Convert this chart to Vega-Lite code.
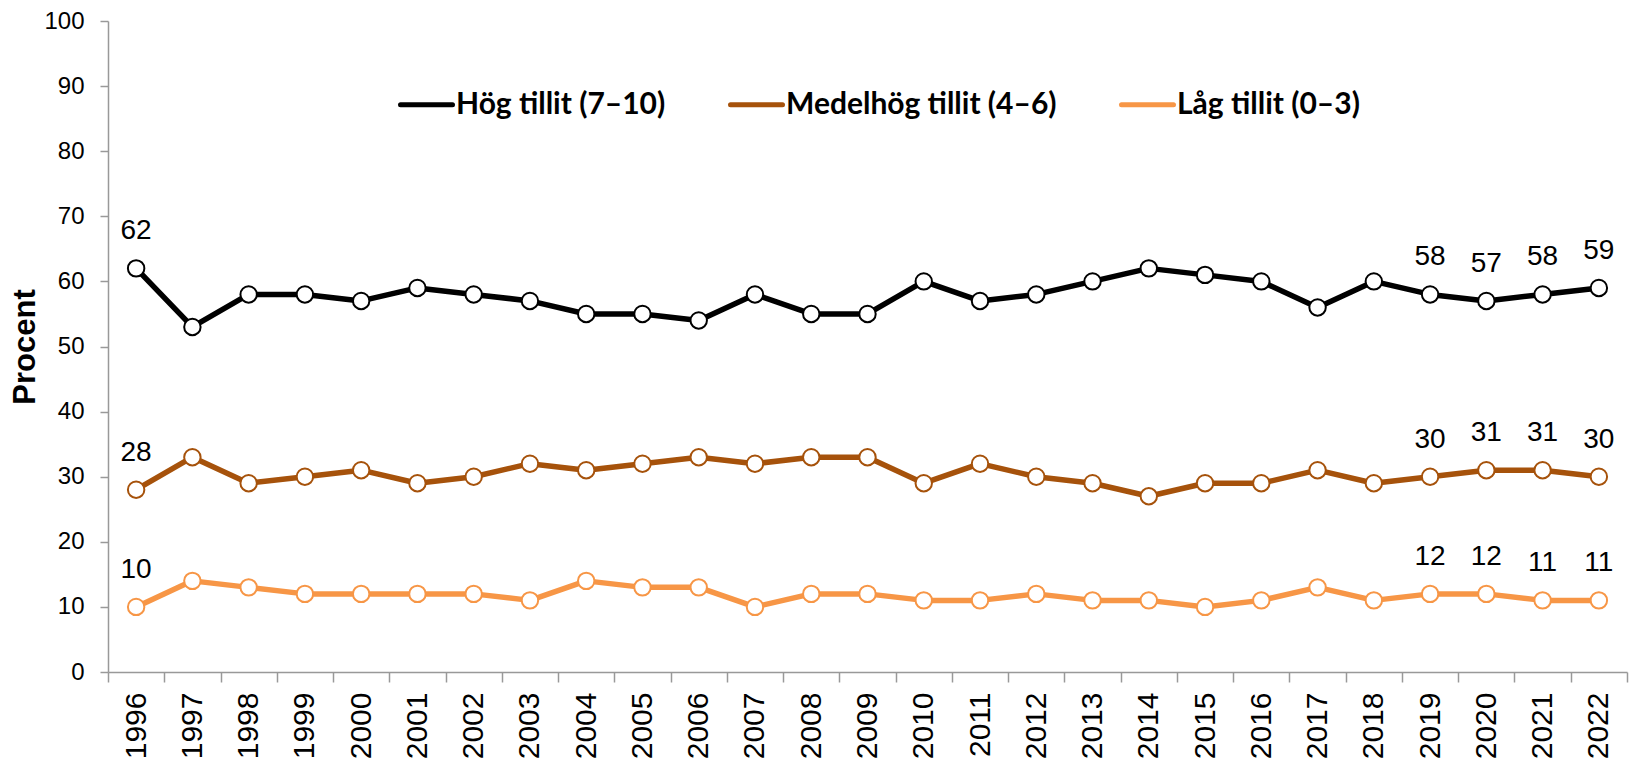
{
  "$schema": "https://vega.github.io/schema/vega-lite/v6.json",
  "width": 1519,
  "height": 651,
  "autosize": {"type": "none"},
  "padding": {"left": 108, "top": 21, "right": 4, "bottom": 90},
  "background": "white",
  "config": {
    "view": {"stroke": null},
    "font": "Liberation Sans"
  },
  "data": {
    "values": [
      {"year": 1996, "serie": "Hög tillit (7–10)", "procent": 62},
      {"year": 1997, "serie": "Hög tillit (7–10)", "procent": 53},
      {"year": 1998, "serie": "Hög tillit (7–10)", "procent": 58},
      {"year": 1999, "serie": "Hög tillit (7–10)", "procent": 58},
      {"year": 2000, "serie": "Hög tillit (7–10)", "procent": 57},
      {"year": 2001, "serie": "Hög tillit (7–10)", "procent": 59},
      {"year": 2002, "serie": "Hög tillit (7–10)", "procent": 58},
      {"year": 2003, "serie": "Hög tillit (7–10)", "procent": 57},
      {"year": 2004, "serie": "Hög tillit (7–10)", "procent": 55},
      {"year": 2005, "serie": "Hög tillit (7–10)", "procent": 55},
      {"year": 2006, "serie": "Hög tillit (7–10)", "procent": 54},
      {"year": 2007, "serie": "Hög tillit (7–10)", "procent": 58},
      {"year": 2008, "serie": "Hög tillit (7–10)", "procent": 55},
      {"year": 2009, "serie": "Hög tillit (7–10)", "procent": 55},
      {"year": 2010, "serie": "Hög tillit (7–10)", "procent": 60},
      {"year": 2011, "serie": "Hög tillit (7–10)", "procent": 57},
      {"year": 2012, "serie": "Hög tillit (7–10)", "procent": 58},
      {"year": 2013, "serie": "Hög tillit (7–10)", "procent": 60},
      {"year": 2014, "serie": "Hög tillit (7–10)", "procent": 62},
      {"year": 2015, "serie": "Hög tillit (7–10)", "procent": 61},
      {"year": 2016, "serie": "Hög tillit (7–10)", "procent": 60},
      {"year": 2017, "serie": "Hög tillit (7–10)", "procent": 56},
      {"year": 2018, "serie": "Hög tillit (7–10)", "procent": 60},
      {"year": 2019, "serie": "Hög tillit (7–10)", "procent": 58},
      {"year": 2020, "serie": "Hög tillit (7–10)", "procent": 57},
      {"year": 2021, "serie": "Hög tillit (7–10)", "procent": 58},
      {"year": 2022, "serie": "Hög tillit (7–10)", "procent": 59},
      {"year": 1996, "serie": "Medelhög tillit (4–6)", "procent": 28},
      {"year": 1997, "serie": "Medelhög tillit (4–6)", "procent": 33},
      {"year": 1998, "serie": "Medelhög tillit (4–6)", "procent": 29},
      {"year": 1999, "serie": "Medelhög tillit (4–6)", "procent": 30},
      {"year": 2000, "serie": "Medelhög tillit (4–6)", "procent": 31},
      {"year": 2001, "serie": "Medelhög tillit (4–6)", "procent": 29},
      {"year": 2002, "serie": "Medelhög tillit (4–6)", "procent": 30},
      {"year": 2003, "serie": "Medelhög tillit (4–6)", "procent": 32},
      {"year": 2004, "serie": "Medelhög tillit (4–6)", "procent": 31},
      {"year": 2005, "serie": "Medelhög tillit (4–6)", "procent": 32},
      {"year": 2006, "serie": "Medelhög tillit (4–6)", "procent": 33},
      {"year": 2007, "serie": "Medelhög tillit (4–6)", "procent": 32},
      {"year": 2008, "serie": "Medelhög tillit (4–6)", "procent": 33},
      {"year": 2009, "serie": "Medelhög tillit (4–6)", "procent": 33},
      {"year": 2010, "serie": "Medelhög tillit (4–6)", "procent": 29},
      {"year": 2011, "serie": "Medelhög tillit (4–6)", "procent": 32},
      {"year": 2012, "serie": "Medelhög tillit (4–6)", "procent": 30},
      {"year": 2013, "serie": "Medelhög tillit (4–6)", "procent": 29},
      {"year": 2014, "serie": "Medelhög tillit (4–6)", "procent": 27},
      {"year": 2015, "serie": "Medelhög tillit (4–6)", "procent": 29},
      {"year": 2016, "serie": "Medelhög tillit (4–6)", "procent": 29},
      {"year": 2017, "serie": "Medelhög tillit (4–6)", "procent": 31},
      {"year": 2018, "serie": "Medelhög tillit (4–6)", "procent": 29},
      {"year": 2019, "serie": "Medelhög tillit (4–6)", "procent": 30},
      {"year": 2020, "serie": "Medelhög tillit (4–6)", "procent": 31},
      {"year": 2021, "serie": "Medelhög tillit (4–6)", "procent": 31},
      {"year": 2022, "serie": "Medelhög tillit (4–6)", "procent": 30},
      {"year": 1996, "serie": "Låg tillit (0–3)", "procent": 10},
      {"year": 1997, "serie": "Låg tillit (0–3)", "procent": 14},
      {"year": 1998, "serie": "Låg tillit (0–3)", "procent": 13},
      {"year": 1999, "serie": "Låg tillit (0–3)", "procent": 12},
      {"year": 2000, "serie": "Låg tillit (0–3)", "procent": 12},
      {"year": 2001, "serie": "Låg tillit (0–3)", "procent": 12},
      {"year": 2002, "serie": "Låg tillit (0–3)", "procent": 12},
      {"year": 2003, "serie": "Låg tillit (0–3)", "procent": 11},
      {"year": 2004, "serie": "Låg tillit (0–3)", "procent": 14},
      {"year": 2005, "serie": "Låg tillit (0–3)", "procent": 13},
      {"year": 2006, "serie": "Låg tillit (0–3)", "procent": 13},
      {"year": 2007, "serie": "Låg tillit (0–3)", "procent": 10},
      {"year": 2008, "serie": "Låg tillit (0–3)", "procent": 12},
      {"year": 2009, "serie": "Låg tillit (0–3)", "procent": 12},
      {"year": 2010, "serie": "Låg tillit (0–3)", "procent": 11},
      {"year": 2011, "serie": "Låg tillit (0–3)", "procent": 11},
      {"year": 2012, "serie": "Låg tillit (0–3)", "procent": 12},
      {"year": 2013, "serie": "Låg tillit (0–3)", "procent": 11},
      {"year": 2014, "serie": "Låg tillit (0–3)", "procent": 11},
      {"year": 2015, "serie": "Låg tillit (0–3)", "procent": 10},
      {"year": 2016, "serie": "Låg tillit (0–3)", "procent": 11},
      {"year": 2017, "serie": "Låg tillit (0–3)", "procent": 13},
      {"year": 2018, "serie": "Låg tillit (0–3)", "procent": 11},
      {"year": 2019, "serie": "Låg tillit (0–3)", "procent": 12},
      {"year": 2020, "serie": "Låg tillit (0–3)", "procent": 12},
      {"year": 2021, "serie": "Låg tillit (0–3)", "procent": 11},
      {"year": 2022, "serie": "Låg tillit (0–3)", "procent": 11}
    ]
  },
  "encoding": {
    "x": {
      "field": "year",
      "type": "ordinal",
      "scale": {"type": "band", "paddingInner": 0, "paddingOuter": 0},
      "axis": {
        "title": null,
        "labelAngle": 270,
        "labelFontSize": 30,
        "labelColor": "#000000",
        "labelPadding": 10,
        "tickBand": "extent",
        "tickSize": 10,
        "tickColor": "#999999",
        "tickWidth": 1.5,
        "domainColor": "#999999",
        "domainWidth": 1.5,
        "grid": false
      }
    },
    "y": {
      "field": "procent",
      "type": "quantitative",
      "scale": {"domain": [0, 100], "nice": false},
      "axis": {
        "title": "Procent",
        "titleFontSize": 31,
        "titleFontWeight": "bold",
        "titleColor": "#000000",
        "titlePadding": 2,
        "values": [0, 10, 20, 30, 40, 50, 60, 70, 80, 90, 100],
        "labelFontSize": 24,
        "labelColor": "#000000",
        "labelPadding": 16,
        "tickSize": 8,
        "tickColor": "#999999",
        "tickWidth": 1.5,
        "domainColor": "#999999",
        "domainWidth": 1.5,
        "grid": false
      }
    }
  },
  "layer": [
    {
      "mark": {"type": "line", "strokeWidth": 5.5, "strokeJoin": "round"},
      "encoding": {
        "color": {
          "field": "serie",
          "type": "nominal",
          "sort": null,
          "scale": {
            "domain": ["Hög tillit (7–10)", "Medelhög tillit (4–6)", "Låg tillit (0–3)"],
            "range": ["#000000", "#A6520B", "#F79646"]
          },
          "legend": {
            "title": null,
            "orient": "none",
            "direction": "horizontal",
            "legendX": 290,
            "legendY": 55,
            "padding": 0,
            "symbolType": "stroke",
            "symbolSize": 2704,
            "symbolStrokeWidth": 5,
            "labelFont": "Lato",
            "labelFontWeight": "bold",
            "labelFontSize": 30,
            "labelColor": "#000000",
            "labelOffset": 1,
            "columnPadding": 54,
            "labelLimit": 400,
            "encode": {"symbols": {"update": {"strokeCap": {"value": "round"}}}}
          }
        }
      }
    },
    {
      "mark": {"type": "point", "shape": "circle", "filled": false, "fill": "#ffffff", "fillOpacity": 1, "opacity": 1, "size": 270, "strokeWidth": 2},
      "encoding": {
        "stroke": {
          "field": "serie",
          "type": "nominal",
          "scale": {
            "domain": ["Hög tillit (7–10)", "Medelhög tillit (4–6)", "Låg tillit (0–3)"],
            "range": ["#000000", "#A6520B", "#F79646"]
          },
          "legend": null
        }
      }
    },
    {
      "transform": [{"filter": "datum.year == 1996 || datum.year >= 2019"}],
      "mark": {"type": "text", "fontSize": 28, "color": "#000000", "baseline": "middle", "align": "center", "dy": -37},
      "encoding": {
        "text": {"field": "procent", "type": "quantitative"}
      }
    }
  ]
}
